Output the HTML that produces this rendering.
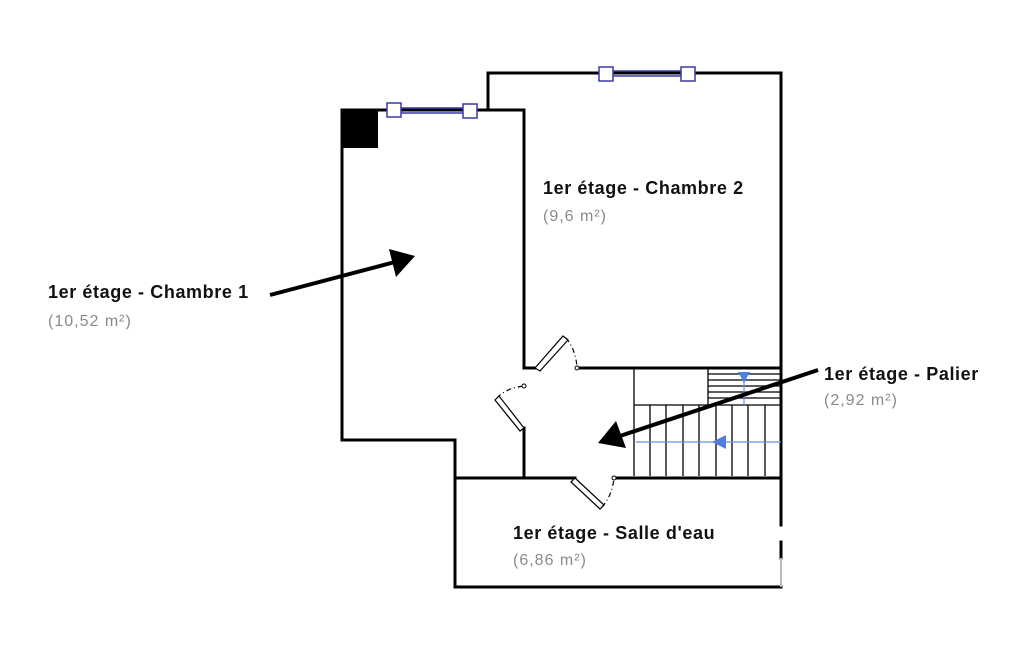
<!DOCTYPE html>
<html><head><meta charset="utf-8"><style>
html,body{margin:0;padding:0;background:#fff;width:1025px;height:650px;overflow:hidden}
svg{display:block}
.t{font-family:"Liberation Sans","DejaVu Sans",sans-serif;font-weight:bold;font-size:18px;letter-spacing:0.6px;fill:#111}
.s{font-family:"Liberation Sans","DejaVu Sans",sans-serif;font-size:16px;letter-spacing:1px;fill:#8a8a8a}
</style></head><body>
<svg width="1025" height="650" viewBox="0 0 1025 650">
<g stroke="#000" stroke-width="3" fill="none" stroke-linecap="square">
<polyline points="342,110 342,440 455,440 455,587 781,587"/>
<line x1="342" y1="110" x2="524" y2="110"/>
<polyline points="524,110 524,368 535,368"/>
<line x1="524" y1="428" x2="524" y2="478"/>
<line x1="577" y1="368" x2="781" y2="368"/>
<polyline points="488,110 488,73 781,73 781,478"/>
<line x1="455" y1="478" x2="575" y2="478"/>
<line x1="614" y1="478" x2="781" y2="478"/>
<line x1="781" y1="478" x2="781" y2="525"/>
<line x1="781" y1="542" x2="781" y2="558"/>
</g>
<line x1="781" y1="558" x2="781" y2="587" stroke="#bbb" stroke-width="2"/>
<rect x="342" y="110" width="36" height="38" fill="#000"/>
<g stroke="#3a3aa8" stroke-width="1.5" fill="#fff">
<line x1="400" y1="108" x2="465" y2="108"/><line x1="400" y1="113" x2="465" y2="113"/>
<rect x="387" y="103" width="14" height="14"/><rect x="463" y="104" width="14" height="14"/>
<line x1="612" y1="71" x2="685" y2="71"/><line x1="612" y1="76" x2="685" y2="76"/>
<rect x="599" y="67" width="14" height="14"/><rect x="681" y="67" width="14" height="14"/>
</g>
<g stroke="#000" stroke-width="1.2" fill="#fff">
<polygon points="535,368 540,371 568,340 563,336"/>
<polygon points="524,428 520,431 495,400 499,396"/>
<polygon points="575,478 571,482 600,509 604,505"/>
</g>
<g stroke="#000" stroke-width="1.2" fill="none" stroke-dasharray="5,3,1,3">
<path d="M566,338 Q576,350 577,368"/>
<path d="M497,398 Q506,388 524,386"/>
<path d="M602,507 Q612,496 614,478"/>
</g>
<g fill="#fff" stroke="#000" stroke-width="1"><circle cx="577" cy="368" r="2"/><circle cx="524" cy="386" r="2"/><circle cx="614" cy="478" r="2"/></g>
<g stroke="#000" stroke-width="1.3">
<line x1="634" y1="368" x2="634" y2="476"/>
<line x1="708" y1="368" x2="708" y2="405"/>
<line x1="708" y1="374" x2="781" y2="374"/><line x1="708" y1="380" x2="781" y2="380"/>
<line x1="708" y1="386" x2="781" y2="386"/><line x1="708" y1="392" x2="781" y2="392"/>
<line x1="708" y1="398" x2="781" y2="398"/>
<line x1="634" y1="405" x2="781" y2="405"/>
<line x1="650" y1="405" x2="650" y2="476"/><line x1="666" y1="405" x2="666" y2="476"/>
<line x1="683" y1="405" x2="683" y2="476"/><line x1="699" y1="405" x2="699" y2="476"/>
<line x1="716" y1="405" x2="716" y2="476"/><line x1="732" y1="405" x2="732" y2="476"/>
<line x1="748" y1="405" x2="748" y2="476"/><line x1="765" y1="405" x2="765" y2="476"/>
</g>
<g stroke="#6b8fd8" stroke-width="1.2"><line x1="636" y1="442" x2="781" y2="442"/><line x1="744" y1="374" x2="744" y2="405"/></g>
<polygon points="712,442 726,435 726,449" fill="#4f7fdc"/>
<polygon points="738,372 750,372 744,383" fill="#4f7fdc"/>
<g stroke="#000" stroke-width="4"><line x1="270" y1="295" x2="395" y2="262"/><line x1="818" y1="370" x2="620" y2="436"/></g>
<polygon points="415,256 389,249 396,277" fill="#000"/>
<polygon points="598,443 616,421 626,448" fill="#000"/>
<text class="t" x="48" y="298">1er étage - Chambre 1</text>
<text class="s" x="48" y="326">(10,52 m²)</text>
<text class="t" x="543" y="194">1er étage - Chambre 2</text>
<text class="s" x="543" y="221">(9,6 m²)</text>
<text class="t" x="824" y="380">1er étage - Palier</text>
<text class="s" x="824" y="405">(2,92 m²)</text>
<text class="t" x="513" y="539">1er étage - Salle d'eau</text>
<text class="s" x="513" y="565">(6,86 m²)</text>
</svg>
</body></html>
